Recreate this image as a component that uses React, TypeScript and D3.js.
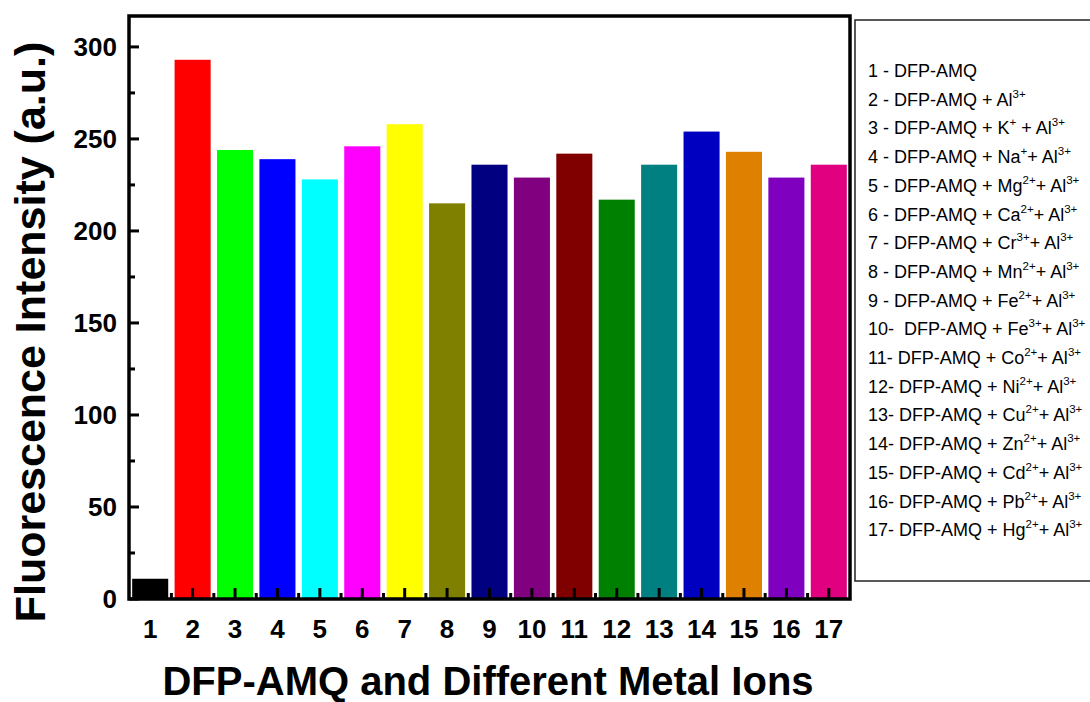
import React from 'react';
import * as d3 from 'd3';

const categories = ['1','2','3','4','5','6','7','8','9','10','11','12','13','14','15','16','17'];
const intensities = [11, 293, 244, 239, 228, 246, 258, 215, 236, 229, 242, 217, 236, 254, 243, 229, 236];
const barColors = ['#000000','#FF0000','#00FF00','#0000FF','#00FFFF','#FF00FF','#FFFF00','#808000','#000080','#800080','#800000','#008000','#008080','#0000C0','#E08000','#8000C0','#E00080'];
const yTicks = [0, 50, 100, 150, 200, 250, 300];
const yMinorTicks = [25, 75, 125, 175, 225, 275];

const legendPrefixes = ['1 - ','2 - ','3 - ','4 - ','5 - ','6 - ','7 - ','8 - ','9 - ','10-  ','11- ','12- ','13- ','14- ','15- ','16- ','17- '];
const legendIons = ['', 'Al', 'K', 'Na', 'Mg', 'Ca', 'Cr', 'Mn', 'Fe', 'Fe', 'Co', 'Ni', 'Cu', 'Zn', 'Cd', 'Pb', 'Hg'];
const legendCharges = ['', '3+', '+', '+', '2+', '2+', '3+', '2+', '2+', '3+', '2+', '2+', '2+', '2+', '2+', '2+', '2+'];
const legendJoiners = ['', '', ' + ', '+ ', '+ ', '+ ', '+ ', '+ ', '+ ', '+ ', '+ ', '+ ', '+ ', '+ ', '+ ', '+ ', '+ '];

const yAxisTitle = 'Fluorescence Intensity (a.u.)';
const xAxisTitle = 'DFP-AMQ and Different Metal Ions';

const FONT = '"Liberation Sans", Arial, Helvetica, sans-serif';

export default function App() {
  const left = 129, right = 850, top = 16, bottom = 599;
  const x = d3.scaleLinear().domain([0.5, 17.5]).range([left, right]);
  const y = d3.scaleLinear().domain([0, 316.8]).range([bottom, top]);
  const unit = x(2) - x(1);
  const barW = unit * 0.85;
  const xMinor = d3.range(1.5, 17.5, 1);

  const supSize = 11.5;
  const legendX = 868, legendY0 = 77, legendDy = 28.7;

  return (
    <svg width={1090} height={702} style={{ position: 'absolute', left: 0, top: 0, background: '#fff' }} fontFamily={FONT}>
      <rect x={0} y={0} width={1090} height={702} fill="#fff" />
      {intensities.map((v, i) => (
        <rect key={i} x={x(i + 1) - barW / 2} y={y(v)} width={barW} height={y(0) - y(v)} fill={barColors[i]} />
      ))}
      {yTicks.map(t => (
        <line key={'yt' + t} x1={left} x2={left + 10} y1={y(t)} y2={y(t)} stroke="#000" strokeWidth={3} />
      ))}
      {yMinorTicks.map(t => (
        <line key={'ym' + t} x1={left} x2={left + 6} y1={y(t)} y2={y(t)} stroke="#000" strokeWidth={3} />
      ))}
      {yTicks.map(t => (
        <text key={'yl' + t} x={117} y={y(t) + 9} textAnchor="end" fontSize={26} fontWeight="bold" fill="#000">{t}</text>
      ))}
      {categories.map((c, i) => (
        <line key={'xt' + c} x1={x(i + 1)} x2={x(i + 1)} y1={bottom} y2={bottom - 11} stroke="#000" strokeWidth={3} />
      ))}
      {xMinor.map(t => (
        <line key={'xm' + t} x1={x(t)} x2={x(t)} y1={bottom} y2={bottom - 6} stroke="#000" strokeWidth={3} />
      ))}
      {categories.map((c, i) => (
        <text key={'xl' + c} x={x(i + 1)} y={638} textAnchor="middle" fontSize={26} fontWeight="bold" fill="#000">{c}</text>
      ))}
      <rect x={left} y={top} width={right - left} height={bottom - top} fill="none" stroke="#000" strokeWidth={3.5} />
      <text transform={`translate(45, 332) rotate(-90)`} textAnchor="middle" fontSize={43} fontWeight="bold" fill="#000">{yAxisTitle}</text>
      <text x={488} y={695} textAnchor="middle" fontSize={40} fontWeight="bold" fill="#000">{xAxisTitle}</text>
      <rect x={855} y={20} width={240} height={561} fill="#fff" stroke="#222" strokeWidth={1.5} />
      {legendPrefixes.map((p, i) => (
        <text key={'lg' + i} x={legendX} y={legendY0 + i * legendDy} fontSize={18} fill="#000" style={{ whiteSpace: 'pre' }}>
          <tspan>{p + 'DFP-AMQ'}</tspan>
          {i >= 1 && <tspan>{' + ' + legendIons[i]}</tspan>}
          {i >= 1 && <tspan dy={-8} fontSize={supSize}>{legendCharges[i]}</tspan>}
          {i >= 2 && <tspan dy={8}>{legendJoiners[i] + 'Al'}</tspan>}
          {i >= 2 && <tspan dy={-8} fontSize={supSize}>3+</tspan>}
        </text>
      ))}
    </svg>
  );
}
